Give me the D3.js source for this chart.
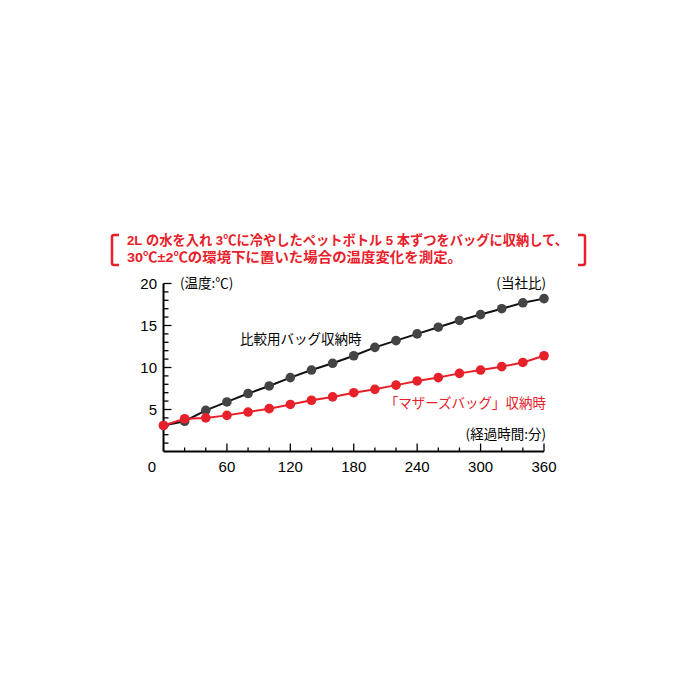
<!DOCTYPE html>
<html>
<head>
<meta charset="utf-8">
<script src="https://cdn.jsdelivr.net/npm/d3@7"></script>
<style>
  body { margin: 0; background: #fff; }
  text { font-family: "Noto Sans CJK JP", "Liberation Sans", sans-serif; }
  .num { font-family: "Liberation Sans", Arial, sans-serif; }
  .title { font-family: "Liberation Sans", "Noto Sans CJK JP", sans-serif; }
</style>
</head>
<body>
<script>
// minutes elapsed
const minutes = [0, 20, 40, 60, 80, 100, 120, 140, 160, 180, 200, 220, 240, 260, 280, 300, 320, 340, 360];
// comparison bag (black)
const compareTemp = [3.1, 3.6, 4.9, 5.9, 6.9, 7.8, 8.8, 9.7, 10.5, 11.4, 12.4, 13.2, 14.0, 14.8, 15.6, 16.3, 17.0, 17.7, 18.2];
// "Mother's bag" (red)
const motherTemp = [3.1, 3.9, 4.0, 4.3, 4.7, 5.1, 5.6, 6.1, 6.5, 7.0, 7.4, 7.9, 8.4, 8.8, 9.3, 9.7, 10.1, 10.6, 11.4];
const xTicks = [0, 60, 120, 180, 240, 300, 360];
const yTicks = [5, 10, 15, 20];

const titleLines = [
  "2L の水を入れ 3℃に冷やしたペットボトル 5 本ずつをバッグに収納して、",
  "30℃±2℃の環境下に置いた場合の温度変化を測定。"
];
const titleWidths = [441, 335];

const W = 700, H = 700;
const red = "#e8202a";
const svg = d3.select("body").append("svg")
  .attr("width", W)
  .attr("height", H);

const x = d3.scaleLinear().domain([0, 360]).range([163.5, 544]);
const y = d3.scaleLinear().domain([0, 20]).range([451.5, 283.5]);

// title lines
svg.selectAll(".title")
  .data(titleLines)
  .enter().append("text")
  .attr("class", "title")
  .attr("x", 127)
  .attr("y", (d, i) => 245 + i * 17)
  .attr("fill", red)
  .attr("textLength", (d, i) => titleWidths[i])
  .attr("lengthAdjust", "spacingAndGlyphs")
  .style("font-size", "13.5px")
  .style("font-weight", "bold")
  .text(d => d);

// brackets
svg.append("path")
  .attr("d", "M119,235 L114,235 Q112,235 112,237 L112,263 Q112,265 114,265 L119,265")
  .attr("fill", "none").attr("stroke", red).attr("stroke-width", 2.5);
svg.append("path")
  .attr("d", "M578,235 L583,235 Q585,235 585,237 L585,263 Q585,265 583,265 L578,265")
  .attr("fill", "none").attr("stroke", red).attr("stroke-width", 2.5);

// y minor / major ticks (inward)
const yMinor = d3.range(1, 21);
svg.selectAll(".ytick")
  .data(yMinor)
  .enter().append("line")
  .attr("x1", x(0))
  .attr("x2", d => x(0) + (d % 5 === 0 ? 8 : 5))
  .attr("y1", d => y(d))
  .attr("y2", d => y(d))
  .attr("stroke", "#000").attr("stroke-width", 1.3);

const xMinor = d3.range(20, 361, 20);
svg.selectAll(".xtick")
  .data(xMinor)
  .enter().append("line")
  .attr("x1", d => x(d))
  .attr("x2", d => x(d))
  .attr("y1", y(0))
  .attr("y2", d => y(0) - (d % 60 === 0 ? 8 : 4))
  .attr("stroke", "#000").attr("stroke-width", 1.3);

// axis lines
svg.append("line")
  .attr("x1", x(0)).attr("x2", x(0))
  .attr("y1", y(0)).attr("y2", y(20))
  .attr("stroke", "#000").attr("stroke-width", 2);
svg.append("line")
  .attr("x1", x(0)).attr("x2", x(360))
  .attr("y1", y(0)).attr("y2", y(0))
  .attr("stroke", "#000").attr("stroke-width", 2);

// tick labels
svg.selectAll(".ylab")
  .data(yTicks)
  .enter().append("text")
  .attr("class", "num")
  .attr("x", 157)
  .attr("y", d => y(d) + 5)
  .attr("text-anchor", "end")
  .style("font-size", "15px")
  .text(d => d);

svg.selectAll(".xlab")
  .data(xTicks)
  .enter().append("text")
  .attr("class", "num")
  .attr("x", d => d === 0 ? 152 : x(d))
  .attr("y", 472)
  .attr("text-anchor", "middle")
  .style("font-size", "15px")
  .text(d => d);

// axis titles
svg.append("text").attr("x", 180).attr("y", 288)
  .style("font-size", "13.5px").text("(温度:℃)");
svg.append("text").attr("x", 546).attr("y", 288)
  .attr("text-anchor", "end")
  .style("font-size", "13.5px").text("(当社比)");
svg.append("text").attr("x", 546).attr("y", 439)
  .attr("text-anchor", "end")
  .style("font-size", "13.5px").text("(経過時間:分)");

// series
const series = [
  {values: compareTemp, line: "#111", dot: "#444"},
  {values: motherTemp, line: red, dot: red}
];
const lineGen = d3.line().x((d, i) => x(minutes[i])).y(d => y(d));

series.forEach(s => {
  svg.append("path")
    .attr("d", lineGen(s.values))
    .attr("fill", "none")
    .attr("stroke", s.line)
    .attr("stroke-width", 2);
  svg.selectAll(null)
    .data(s.values)
    .enter().append("circle")
    .attr("cx", (d, i) => x(minutes[i]))
    .attr("cy", d => y(d))
    .attr("r", 4.8)
    .attr("fill", s.dot);
});

// series labels
svg.append("text").attr("x", 240).attr("y", 344)
  .style("font-size", "13.5px").text("比較用バッグ収納時");
svg.append("text").attr("x", 546).attr("y", 408)
  .attr("text-anchor", "end")
  .attr("fill", red)
  .style("font-size", "13.5px").text("「マザーズバッグ」収納時");
</script>
</body>
</html>
